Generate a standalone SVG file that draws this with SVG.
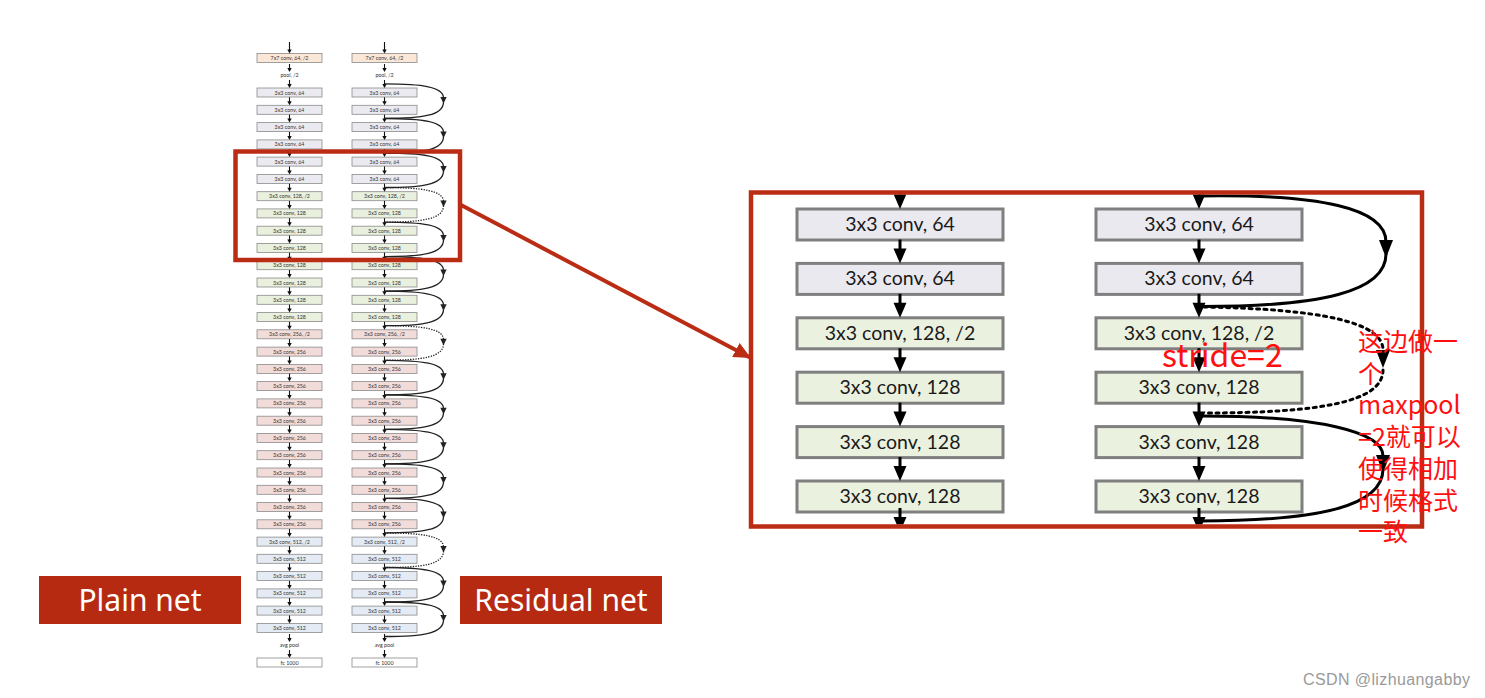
<svg xmlns="http://www.w3.org/2000/svg" xmlns:xlink="http://www.w3.org/1999/xlink" width="1485" height="698" viewBox="0 0 1485 698">
<style>
.s{stroke:#8a8a8a;stroke-width:0.8}
.c7{fill:#FBE7D8}.c64{fill:#ECEAF1}.c128{fill:#E9F0DD}.c256{fill:#F2DCDA}.c512{fill:#E4EBF4}.cfc{fill:#ffffff}
.st{font-family:Lato,"Liberation Sans",sans-serif;font-size:5.3px;fill:#333;text-anchor:middle}
.b{stroke:#7f7f7f;stroke-width:3}
.b64{fill:#EBE9F0}.b128{fill:#EBF1DF}
.bt{font-family:Lato,"Liberation Sans",sans-serif;font-size:19.5px;fill:#1a1a1a;text-anchor:middle}
.sk{fill:none;stroke:#222;stroke-width:1.3}
.skd{fill:none;stroke:#222;stroke-width:1.3;stroke-dasharray:1.3 1.3}
.bk{fill:none;stroke:#000;stroke-width:3}
.bkd{fill:none;stroke:#000;stroke-width:3;stroke-dasharray:3 4.5;stroke-linecap:round}
.frame{fill:none;stroke:#BA2D14;stroke-width:4.5}
.lab{fill:#B72A12}
.lt{font-family:"Noto Sans","Open Sans",sans-serif;font-size:30px;fill:#fff;text-anchor:middle}
.rt{font-family:"Noto Sans CJK SC","Noto Sans",sans-serif;fill:#FF1010}
</style>
<defs>
<g id="sa"><path d="M0,-8 V-3" stroke="#111" stroke-width="1.1"/><path d="M-2.2,-4 L2.2,-4 L0,0 z" fill="#111"/></g>
<g id="skip"><path class="sk" d="M0,0 C38,0 59,3 59,14"/><path d="M55.8,13 L62.2,13 L59,19.5 z" fill="#222"/><path class="sk" d="M59,18 C59,31.5 38,34.5 0,34.5"/></g>
<g id="skipd"><path class="skd" d="M0,0 C38,0 59,3 59,14"/><path d="M55.8,13 L62.2,13 L59,19.5 z" fill="#222"/><path class="skd" d="M59,18 C59,31.5 38,34.5 0,34.5"/></g>
<g id="ba"><path d="M0,-24 V-12" stroke="#000" stroke-width="3"/><path d="M-6.5,-15 L6.5,-15 L0,0 z" fill="#000"/></g>
<marker id="rh" markerUnits="userSpaceOnUse" markerWidth="18" markerHeight="16" refX="16" refY="8" orient="auto"><path d="M0,0 L17,8 L0,16 z" fill="#BA2D14"/></marker>
<clipPath id="inner"><rect x="753" y="194.5" width="667" height="330"/></clipPath>
</defs>

<g id="plain-net">
<g id="p0" transform="translate(257,53.5)"><rect class="s c7" width="65" height="9"/><text class="st" x="32.5" y="6.5">7x7 conv, 64, /2</text></g>
<g id="p1"><text class="st" x="289.5" y="77.3">pool, /2</text></g>
<g id="p2" transform="translate(257,88)"><rect class="s c64" width="65" height="9"/><text class="st" x="32.5" y="6.5">3x3 conv, 64</text></g>
<g id="p3" transform="translate(257,105.3)"><rect class="s c64" width="65" height="9"/><text class="st" x="32.5" y="6.5">3x3 conv, 64</text></g>
<g id="p4" transform="translate(257,122.6)"><rect class="s c64" width="65" height="9"/><text class="st" x="32.5" y="6.5">3x3 conv, 64</text></g>
<g id="p5" transform="translate(257,139.9)"><rect class="s c64" width="65" height="9"/><text class="st" x="32.5" y="6.5">3x3 conv, 64</text></g>
<g id="p6" transform="translate(257,157.1)"><rect class="s c64" width="65" height="9"/><text class="st" x="32.5" y="6.5">3x3 conv, 64</text></g>
<g id="p7" transform="translate(257,174.4)"><rect class="s c64" width="65" height="9"/><text class="st" x="32.5" y="6.5">3x3 conv, 64</text></g>
<g id="p8" transform="translate(257,191.7)"><rect class="s c128" width="65" height="9"/><text class="st" x="32.5" y="6.5">3x3 conv, 128, /2</text></g>
<g id="p9" transform="translate(257,208.9)"><rect class="s c128" width="65" height="9"/><text class="st" x="32.5" y="6.5">3x3 conv, 128</text></g>
<g id="p10" transform="translate(257,226.2)"><rect class="s c128" width="65" height="9"/><text class="st" x="32.5" y="6.5">3x3 conv, 128</text></g>
<g id="p11" transform="translate(257,243.5)"><rect class="s c128" width="65" height="9"/><text class="st" x="32.5" y="6.5">3x3 conv, 128</text></g>
<g id="p12" transform="translate(257,260.7)"><rect class="s c128" width="65" height="9"/><text class="st" x="32.5" y="6.5">3x3 conv, 128</text></g>
<g id="p13" transform="translate(257,278)"><rect class="s c128" width="65" height="9"/><text class="st" x="32.5" y="6.5">3x3 conv, 128</text></g>
<g id="p14" transform="translate(257,295.3)"><rect class="s c128" width="65" height="9"/><text class="st" x="32.5" y="6.5">3x3 conv, 128</text></g>
<g id="p15" transform="translate(257,312.6)"><rect class="s c128" width="65" height="9"/><text class="st" x="32.5" y="6.5">3x3 conv, 128</text></g>
<g id="p16" transform="translate(257,329.8)"><rect class="s c256" width="65" height="9"/><text class="st" x="32.5" y="6.5">3x3 conv, 256, /2</text></g>
<g id="p17" transform="translate(257,347.1)"><rect class="s c256" width="65" height="9"/><text class="st" x="32.5" y="6.5">3x3 conv, 256</text></g>
<g id="p18" transform="translate(257,364.4)"><rect class="s c256" width="65" height="9"/><text class="st" x="32.5" y="6.5">3x3 conv, 256</text></g>
<g id="p19" transform="translate(257,381.6)"><rect class="s c256" width="65" height="9"/><text class="st" x="32.5" y="6.5">3x3 conv, 256</text></g>
<g id="p20" transform="translate(257,398.9)"><rect class="s c256" width="65" height="9"/><text class="st" x="32.5" y="6.5">3x3 conv, 256</text></g>
<g id="p21" transform="translate(257,416.2)"><rect class="s c256" width="65" height="9"/><text class="st" x="32.5" y="6.5">3x3 conv, 256</text></g>
<g id="p22" transform="translate(257,433.4)"><rect class="s c256" width="65" height="9"/><text class="st" x="32.5" y="6.5">3x3 conv, 256</text></g>
<g id="p23" transform="translate(257,450.7)"><rect class="s c256" width="65" height="9"/><text class="st" x="32.5" y="6.5">3x3 conv, 256</text></g>
<g id="p24" transform="translate(257,468)"><rect class="s c256" width="65" height="9"/><text class="st" x="32.5" y="6.5">3x3 conv, 256</text></g>
<g id="p25" transform="translate(257,485.3)"><rect class="s c256" width="65" height="9"/><text class="st" x="32.5" y="6.5">3x3 conv, 256</text></g>
<g id="p26" transform="translate(257,502.5)"><rect class="s c256" width="65" height="9"/><text class="st" x="32.5" y="6.5">3x3 conv, 256</text></g>
<g id="p27" transform="translate(257,519.8)"><rect class="s c256" width="65" height="9"/><text class="st" x="32.5" y="6.5">3x3 conv, 256</text></g>
<g id="p28" transform="translate(257,537.1)"><rect class="s c512" width="65" height="9"/><text class="st" x="32.5" y="6.5">3x3 conv, 512, /2</text></g>
<g id="p29" transform="translate(257,554.3)"><rect class="s c512" width="65" height="9"/><text class="st" x="32.5" y="6.5">3x3 conv, 512</text></g>
<g id="p30" transform="translate(257,571.6)"><rect class="s c512" width="65" height="9"/><text class="st" x="32.5" y="6.5">3x3 conv, 512</text></g>
<g id="p31" transform="translate(257,588.9)"><rect class="s c512" width="65" height="9"/><text class="st" x="32.5" y="6.5">3x3 conv, 512</text></g>
<g id="p32" transform="translate(257,606.1)"><rect class="s c512" width="65" height="9"/><text class="st" x="32.5" y="6.5">3x3 conv, 512</text></g>
<g id="p33" transform="translate(257,623.4)"><rect class="s c512" width="65" height="9"/><text class="st" x="32.5" y="6.5">3x3 conv, 512</text></g>
<g id="p34"><text class="st" x="289.5" y="647.2">avg pool</text></g>
<g id="p35" transform="translate(257,658)"><rect class="s cfc" width="65" height="9"/><text class="st" x="32.5" y="6.5">fc 1000</text></g>
</g>

<g id="residual-net">
<g id="r0" transform="translate(352,53.5)"><rect class="s c7" width="65" height="9"/><text class="st" x="32.5" y="6.5">7x7 conv, 64, /2</text></g>
<g id="r1"><text class="st" x="384.5" y="77.3">pool, /2</text></g>
<g id="r2" transform="translate(352,88)"><rect class="s c64" width="65" height="9"/><text class="st" x="32.5" y="6.5">3x3 conv, 64</text></g>
<g id="r3" transform="translate(352,105.3)"><rect class="s c64" width="65" height="9"/><text class="st" x="32.5" y="6.5">3x3 conv, 64</text></g>
<g id="r4" transform="translate(352,122.6)"><rect class="s c64" width="65" height="9"/><text class="st" x="32.5" y="6.5">3x3 conv, 64</text></g>
<g id="r5" transform="translate(352,139.9)"><rect class="s c64" width="65" height="9"/><text class="st" x="32.5" y="6.5">3x3 conv, 64</text></g>
<g id="r6" transform="translate(352,157.1)"><rect class="s c64" width="65" height="9"/><text class="st" x="32.5" y="6.5">3x3 conv, 64</text></g>
<g id="r7" transform="translate(352,174.4)"><rect class="s c64" width="65" height="9"/><text class="st" x="32.5" y="6.5">3x3 conv, 64</text></g>
<g id="r8" transform="translate(352,191.7)"><rect class="s c128" width="65" height="9"/><text class="st" x="32.5" y="6.5">3x3 conv, 128, /2</text></g>
<g id="r9" transform="translate(352,208.9)"><rect class="s c128" width="65" height="9"/><text class="st" x="32.5" y="6.5">3x3 conv, 128</text></g>
<g id="r10" transform="translate(352,226.2)"><rect class="s c128" width="65" height="9"/><text class="st" x="32.5" y="6.5">3x3 conv, 128</text></g>
<g id="r11" transform="translate(352,243.5)"><rect class="s c128" width="65" height="9"/><text class="st" x="32.5" y="6.5">3x3 conv, 128</text></g>
<g id="r12" transform="translate(352,260.7)"><rect class="s c128" width="65" height="9"/><text class="st" x="32.5" y="6.5">3x3 conv, 128</text></g>
<g id="r13" transform="translate(352,278)"><rect class="s c128" width="65" height="9"/><text class="st" x="32.5" y="6.5">3x3 conv, 128</text></g>
<g id="r14" transform="translate(352,295.3)"><rect class="s c128" width="65" height="9"/><text class="st" x="32.5" y="6.5">3x3 conv, 128</text></g>
<g id="r15" transform="translate(352,312.6)"><rect class="s c128" width="65" height="9"/><text class="st" x="32.5" y="6.5">3x3 conv, 128</text></g>
<g id="r16" transform="translate(352,329.8)"><rect class="s c256" width="65" height="9"/><text class="st" x="32.5" y="6.5">3x3 conv, 256, /2</text></g>
<g id="r17" transform="translate(352,347.1)"><rect class="s c256" width="65" height="9"/><text class="st" x="32.5" y="6.5">3x3 conv, 256</text></g>
<g id="r18" transform="translate(352,364.4)"><rect class="s c256" width="65" height="9"/><text class="st" x="32.5" y="6.5">3x3 conv, 256</text></g>
<g id="r19" transform="translate(352,381.6)"><rect class="s c256" width="65" height="9"/><text class="st" x="32.5" y="6.5">3x3 conv, 256</text></g>
<g id="r20" transform="translate(352,398.9)"><rect class="s c256" width="65" height="9"/><text class="st" x="32.5" y="6.5">3x3 conv, 256</text></g>
<g id="r21" transform="translate(352,416.2)"><rect class="s c256" width="65" height="9"/><text class="st" x="32.5" y="6.5">3x3 conv, 256</text></g>
<g id="r22" transform="translate(352,433.4)"><rect class="s c256" width="65" height="9"/><text class="st" x="32.5" y="6.5">3x3 conv, 256</text></g>
<g id="r23" transform="translate(352,450.7)"><rect class="s c256" width="65" height="9"/><text class="st" x="32.5" y="6.5">3x3 conv, 256</text></g>
<g id="r24" transform="translate(352,468)"><rect class="s c256" width="65" height="9"/><text class="st" x="32.5" y="6.5">3x3 conv, 256</text></g>
<g id="r25" transform="translate(352,485.3)"><rect class="s c256" width="65" height="9"/><text class="st" x="32.5" y="6.5">3x3 conv, 256</text></g>
<g id="r26" transform="translate(352,502.5)"><rect class="s c256" width="65" height="9"/><text class="st" x="32.5" y="6.5">3x3 conv, 256</text></g>
<g id="r27" transform="translate(352,519.8)"><rect class="s c256" width="65" height="9"/><text class="st" x="32.5" y="6.5">3x3 conv, 256</text></g>
<g id="r28" transform="translate(352,537.1)"><rect class="s c512" width="65" height="9"/><text class="st" x="32.5" y="6.5">3x3 conv, 512, /2</text></g>
<g id="r29" transform="translate(352,554.3)"><rect class="s c512" width="65" height="9"/><text class="st" x="32.5" y="6.5">3x3 conv, 512</text></g>
<g id="r30" transform="translate(352,571.6)"><rect class="s c512" width="65" height="9"/><text class="st" x="32.5" y="6.5">3x3 conv, 512</text></g>
<g id="r31" transform="translate(352,588.9)"><rect class="s c512" width="65" height="9"/><text class="st" x="32.5" y="6.5">3x3 conv, 512</text></g>
<g id="r32" transform="translate(352,606.1)"><rect class="s c512" width="65" height="9"/><text class="st" x="32.5" y="6.5">3x3 conv, 512</text></g>
<g id="r33" transform="translate(352,623.4)"><rect class="s c512" width="65" height="9"/><text class="st" x="32.5" y="6.5">3x3 conv, 512</text></g>
<g id="r34"><text class="st" x="384.5" y="647.2">avg pool</text></g>
<g id="r35" transform="translate(352,658)"><rect class="s cfc" width="65" height="9"/><text class="st" x="32.5" y="6.5">fc 1000</text></g>
</g>

<g id="label-plain"><rect class="lab" x="39" y="576" width="202" height="48"/><text class="lt" x="140" y="611">Plain net</text></g>
<g id="label-residual"><rect class="lab" x="460" y="576" width="202" height="48"/><text class="lt" x="561" y="611">Residual net</text></g>

<g id="zoom-plain">
<g id="zp0" transform="translate(797,209)"><rect class="b b64" width="206" height="31"/><text class="bt" x="103" y="22">3x3 conv, 64</text></g>
<g id="zp1" transform="translate(797,263.4)"><rect class="b b64" width="206" height="31"/><text class="bt" x="103" y="22">3x3 conv, 64</text></g>
<g id="zp2" transform="translate(797,317.8)"><rect class="b b128" width="206" height="31"/><text class="bt" x="103" y="22">3x3 conv, 128, /2</text></g>
<g id="zp3" transform="translate(797,372.2)"><rect class="b b128" width="206" height="31"/><text class="bt" x="103" y="22">3x3 conv, 128</text></g>
<g id="zp4" transform="translate(797,426.6)"><rect class="b b128" width="206" height="31"/><text class="bt" x="103" y="22">3x3 conv, 128</text></g>
<g id="zp5" transform="translate(797,481)"><rect class="b b128" width="206" height="31"/><text class="bt" x="103" y="22">3x3 conv, 128</text></g>
</g>
<g id="zoom-residual">
<g id="zr0" transform="translate(1096,209)"><rect class="b b64" width="206" height="31"/><text class="bt" x="103" y="22">3x3 conv, 64</text></g>
<g id="zr1" transform="translate(1096,263.4)"><rect class="b b64" width="206" height="31"/><text class="bt" x="103" y="22">3x3 conv, 64</text></g>
<g id="zr2" transform="translate(1096,317.8)"><rect class="b b128" width="206" height="31"/><text class="bt" x="103" y="22">3x3 conv, 128, /2</text></g>
<g id="zr3" transform="translate(1096,372.2)"><rect class="b b128" width="206" height="31"/><text class="bt" x="103" y="22">3x3 conv, 128</text></g>
<g id="zr4" transform="translate(1096,426.6)"><rect class="b b128" width="206" height="31"/><text class="bt" x="103" y="22">3x3 conv, 128</text></g>
<g id="zr5" transform="translate(1096,481)"><rect class="b b128" width="206" height="31"/><text class="bt" x="103" y="22">3x3 conv, 128</text></g>
</g>

<g id="connectors">
<path d="M289.5,42 V47 M384.5,42 V47" stroke="#111" stroke-width="1.1"/>
<g id="plain-arrows">
<use href="#sa" x="289.5" y="53.5"/><use href="#sa" x="289.5" y="72"/><use href="#sa" x="289.5" y="88"/><use href="#sa" x="289.5" y="105.3"/><use href="#sa" x="289.5" y="122.6"/><use href="#sa" x="289.5" y="139.9"/><use href="#sa" x="289.5" y="157.1"/><use href="#sa" x="289.5" y="174.4"/><use href="#sa" x="289.5" y="191.7"/><use href="#sa" x="289.5" y="208.9"/><use href="#sa" x="289.5" y="226.2"/><use href="#sa" x="289.5" y="243.5"/><use href="#sa" x="289.5" y="260.7"/><use href="#sa" x="289.5" y="278"/><use href="#sa" x="289.5" y="295.3"/><use href="#sa" x="289.5" y="312.6"/><use href="#sa" x="289.5" y="329.8"/><use href="#sa" x="289.5" y="347.1"/><use href="#sa" x="289.5" y="364.4"/><use href="#sa" x="289.5" y="381.6"/><use href="#sa" x="289.5" y="398.9"/><use href="#sa" x="289.5" y="416.2"/><use href="#sa" x="289.5" y="433.4"/><use href="#sa" x="289.5" y="450.7"/><use href="#sa" x="289.5" y="468"/><use href="#sa" x="289.5" y="485.3"/><use href="#sa" x="289.5" y="502.5"/><use href="#sa" x="289.5" y="519.8"/><use href="#sa" x="289.5" y="537.1"/><use href="#sa" x="289.5" y="554.3"/><use href="#sa" x="289.5" y="571.6"/><use href="#sa" x="289.5" y="588.9"/><use href="#sa" x="289.5" y="606.1"/><use href="#sa" x="289.5" y="623.4"/><use href="#sa" x="289.5" y="642"/><use href="#sa" x="289.5" y="658"/>
</g>
<g id="residual-arrows">
<use href="#sa" x="384.5" y="53.5"/><use href="#sa" x="384.5" y="72"/><use href="#sa" x="384.5" y="88"/><use href="#sa" x="384.5" y="105.3"/><use href="#sa" x="384.5" y="122.6"/><use href="#sa" x="384.5" y="139.9"/><use href="#sa" x="384.5" y="157.1"/><use href="#sa" x="384.5" y="174.4"/><use href="#sa" x="384.5" y="191.7"/><use href="#sa" x="384.5" y="208.9"/><use href="#sa" x="384.5" y="226.2"/><use href="#sa" x="384.5" y="243.5"/><use href="#sa" x="384.5" y="260.7"/><use href="#sa" x="384.5" y="278"/><use href="#sa" x="384.5" y="295.3"/><use href="#sa" x="384.5" y="312.6"/><use href="#sa" x="384.5" y="329.8"/><use href="#sa" x="384.5" y="347.1"/><use href="#sa" x="384.5" y="364.4"/><use href="#sa" x="384.5" y="381.6"/><use href="#sa" x="384.5" y="398.9"/><use href="#sa" x="384.5" y="416.2"/><use href="#sa" x="384.5" y="433.4"/><use href="#sa" x="384.5" y="450.7"/><use href="#sa" x="384.5" y="468"/><use href="#sa" x="384.5" y="485.3"/><use href="#sa" x="384.5" y="502.5"/><use href="#sa" x="384.5" y="519.8"/><use href="#sa" x="384.5" y="537.1"/><use href="#sa" x="384.5" y="554.3"/><use href="#sa" x="384.5" y="571.6"/><use href="#sa" x="384.5" y="588.9"/><use href="#sa" x="384.5" y="606.1"/><use href="#sa" x="384.5" y="623.4"/><use href="#sa" x="384.5" y="642"/><use href="#sa" x="384.5" y="658"/>
</g>
<g id="residual-skips">
<use href="#skip" x="384.5" y="83.9"/><use href="#skip" x="384.5" y="118.5"/><use href="#skip" x="384.5" y="153"/>
<use href="#skipd" x="384.5" y="187.6"/><use href="#skip" x="384.5" y="222.1"/><use href="#skip" x="384.5" y="256.6"/><use href="#skip" x="384.5" y="291.2"/>
<use href="#skipd" x="384.5" y="325.7"/><use href="#skip" x="384.5" y="360.3"/><use href="#skip" x="384.5" y="394.8"/><use href="#skip" x="384.5" y="429.3"/><use href="#skip" x="384.5" y="463.9"/><use href="#skip" x="384.5" y="498.4"/>
<use href="#skipd" x="384.5" y="533"/><use href="#skip" x="384.5" y="567.5"/><use href="#skip" x="384.5" y="602"/>
</g>
<g id="zoom-arrows" clip-path="url(#inner)">
<use href="#ba" x="900" y="209"/><use href="#ba" x="900" y="263.4"/><use href="#ba" x="900" y="317.8"/><use href="#ba" x="900" y="372.2"/><use href="#ba" x="900" y="426.6"/><use href="#ba" x="900" y="481"/><use href="#ba" x="900" y="532"/>
<use href="#ba" x="1199" y="209"/><use href="#ba" x="1199" y="263.4"/><use href="#ba" x="1199" y="317.8"/><use href="#ba" x="1199" y="372.2"/><use href="#ba" x="1199" y="426.6"/><use href="#ba" x="1199" y="481"/><use href="#ba" x="1199" y="532"/>
<path class="bk" d="M1199,196 C1320,194 1386,208 1386,242"/><path d="M1379,240 L1393,240 L1386,258 z"/><path class="bk" d="M1386,254 C1386,292 1320,306.5 1202,306.5"/>
<path class="bkd" d="M1204,307 C1320,309 1383,322 1383,350"/><path d="M1376,350 L1390,350 L1383,368 z"/><path class="bkd" d="M1383,370 C1383,402 1320,413 1204,413"/>
<path class="bk" d="M1202,416 C1320,416 1383,432 1383,456"/><path d="M1376,455 L1390,455 L1383,473 z"/><path class="bk" d="M1383,469 C1383,506 1320,521 1199,521"/>
</g>
<path id="zoom-link" d="M461,205 L750,357.5" stroke="#BA2D14" stroke-width="4" fill="none" marker-end="url(#rh)"/>
</g>

<g id="highlight-frame"><rect class="frame" x="235.5" y="151.5" width="224.5" height="108.5"/></g>
<g id="zoom-frame"><rect class="frame" x="751" y="192.5" width="671" height="334"/></g>

<g id="annotations">
<text class="rt" x="1162" y="367" font-size="32">stride=2</text>
<text class="rt" font-size="25"><tspan x="1358" y="351">这边做一</tspan><tspan x="1358" y="382.7">个</tspan><tspan x="1358" y="414.4">maxpool</tspan><tspan x="1358" y="446">=2就可以</tspan><tspan x="1358" y="477.8">使得相加</tspan><tspan x="1358" y="509.5">时候格式</tspan><tspan x="1358" y="541">一致</tspan></text>
</g>
<text x="1303" y="685" font-family="Liberation Sans,Arial,sans-serif" font-size="16" fill="#9a9a9a" textLength="167">CSDN @lizhuangabby</text>
</svg>
